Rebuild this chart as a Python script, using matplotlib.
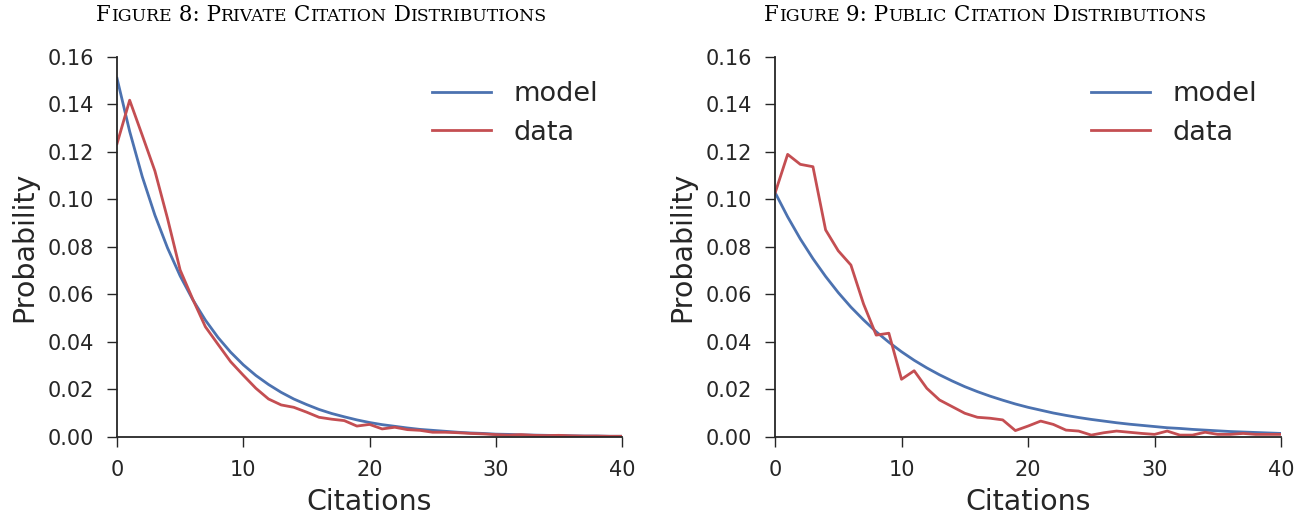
import numpy as np
import matplotlib
matplotlib.use("Agg")
import matplotlib.pyplot as plt
from matplotlib.font_manager import FontProperties

# citations 0..40
citations = list(range(41))

private_model = [0.1510, 0.1287, 0.1096, 0.0934, 0.0796, 0.0678, 0.0578, 0.0492,
                 0.0419, 0.0357, 0.0304, 0.0259, 0.0221, 0.0188, 0.0160, 0.0137,
                 0.0116, 0.0099, 0.0085, 0.0072, 0.0061, 0.0052, 0.0045, 0.0038,
                 0.0032, 0.0028, 0.0024, 0.0020, 0.0017, 0.0015, 0.0012, 0.0011,
                 0.0009, 0.0008, 0.0007, 0.0006, 0.0005, 0.0004, 0.0004, 0.0003,
                 0.0003]
private_data = [0.1235, 0.1418, 0.1270, 0.1120, 0.0920, 0.0703, 0.0580, 0.0464,
                0.0390, 0.0317, 0.0260, 0.0205, 0.0160, 0.0135, 0.0125, 0.0105,
                0.0083, 0.0075, 0.0069, 0.0046, 0.0053, 0.0034, 0.0041, 0.0031,
                0.0028, 0.0020, 0.0020, 0.0018, 0.0015, 0.0013, 0.0010, 0.0008,
                0.0010, 0.0007, 0.0006, 0.0007, 0.0005, 0.0004, 0.0004, 0.0003,
                0.0003]

public_model = [0.1030, 0.0927, 0.0834, 0.0751, 0.0676, 0.0608, 0.0547, 0.0493,
                0.0443, 0.0399, 0.0359, 0.0323, 0.0291, 0.0262, 0.0236, 0.0212,
                0.0191, 0.0172, 0.0155, 0.0139, 0.0125, 0.0113, 0.0101, 0.0091,
                0.0082, 0.0074, 0.0067, 0.0060, 0.0054, 0.0049, 0.0044, 0.0039,
                0.0036, 0.0032, 0.0029, 0.0026, 0.0023, 0.0021, 0.0019, 0.0017,
                0.0015]
public_data = [0.1026, 0.1190, 0.1148, 0.1138, 0.0872, 0.0784, 0.0724, 0.0560,
               0.0429, 0.0437, 0.0243, 0.0279, 0.0205, 0.0156, 0.0128, 0.0100,
               0.0083, 0.0079, 0.0072, 0.0027, 0.0046, 0.0067, 0.0053, 0.0029,
               0.0025, 0.0008, 0.0018, 0.0025, 0.0020, 0.0015, 0.0011, 0.0025,
               0.0008, 0.0008, 0.0020, 0.0011, 0.0011, 0.0015, 0.0011, 0.0011,
               0.0011]

titles = ["Figure 8: Private Citation Distributions",
          "Figure 9: Public Citation Distributions"]

BLUE = "#4C72B0"
RED = "#C44E52"
DARK = "#262626"

plt.rcParams["font.family"] = "DejaVu Sans"
plt.rcParams["axes.edgecolor"] = DARK
plt.rcParams["xtick.color"] = DARK
plt.rcParams["ytick.color"] = DARK
plt.rcParams["text.color"] = DARK
plt.rcParams["axes.labelcolor"] = DARK

fig = plt.figure(figsize=(13.12, 5.19), dpi=100)


def small_caps(fig, xc, y, text, size, ratio=0.78, family="DejaVu Serif"):
    # fake small caps: upper case / digits big, lower case -> smaller capitals
    r = fig.canvas.get_renderer()
    runs = []
    for ch in text:
        big = not ch.islower()
        s = size if big else size * ratio
        c = ch.upper()
        if runs and runs[-1][1] == s:
            runs[-1][0] += c
        else:
            runs.append([c, s])
    widths = []
    for s, sz in runs:
        fp = FontProperties(family=family, size=sz)
        w1 = r.get_text_width_height_descent("|" + s + "|", fp, ismath=False)[0]
        w0 = r.get_text_width_height_descent("||", fp, ismath=False)[0]
        widths.append(w1 - w0)
    W = fig.bbox.width
    x = xc * W - sum(widths) / 2
    for (s, sz), w in zip(runs, widths):
        fig.text(x / W, y, s, fontsize=sz, family=family, color="black",
                 ha="left", va="baseline")
        x += w


def draw_panel(rect, model, data, title, xc):
    ax = fig.add_axes(rect)
    ax.plot(citations, model, color=BLUE, lw=2.0, label="model")
    ax.plot(citations, data, color=RED, lw=2.0, label="data")
    ax.set_xlim(0, 40)
    ax.set_ylim(0, 0.16)
    ax.set_xticks([0, 10, 20, 30, 40])
    ax.set_yticks(np.arange(0, 0.161, 0.02))
    ax.yaxis.set_major_formatter(plt.FormatStrFormatter("%.2f"))
    for side in ["top", "right"]:
        ax.spines[side].set_visible(False)
    for side in ["left", "bottom"]:
        ax.spines[side].set_linewidth(1.3)
    ax.tick_params(direction="out", length=7.5, width=1.0, pad=9, labelsize=15)
    ax.set_xlabel("Citations", fontsize=20.5, labelpad=6)
    ax.set_ylabel("Probability", fontsize=20.5, labelpad=7)
    ax.legend(loc="upper right", frameon=False, fontsize=19.5, handlelength=2.2,
              labelspacing=0.45)
    small_caps(fig, xc, 0.960, title, 15.5, ratio=0.8)
    return ax


draw_panel([0.0892, 0.158, 0.3849, 0.7322], private_model, private_data, titles[0], 0.245)
draw_panel([0.5907, 0.158, 0.3857, 0.7322], public_model, public_data, titles[1], 0.751)

fig.savefig("out.png", dpi=100)
